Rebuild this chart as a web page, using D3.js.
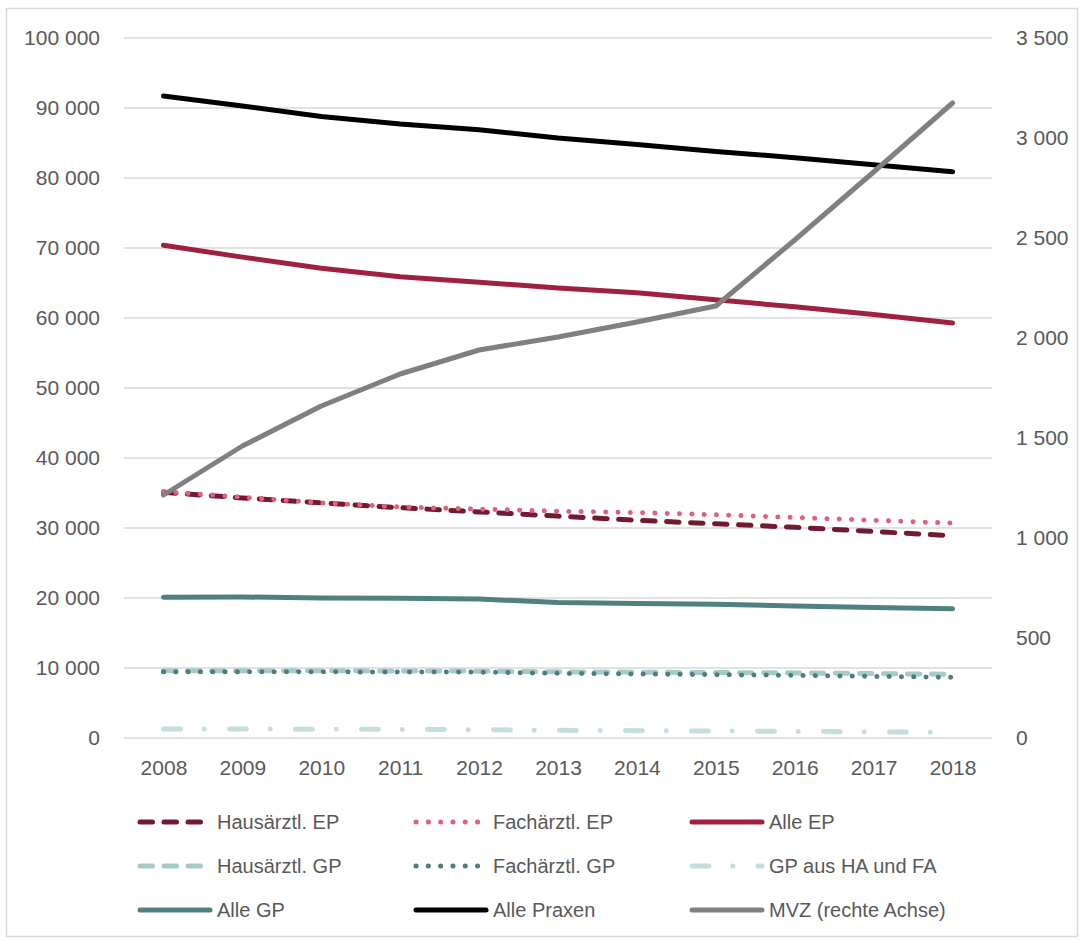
<!DOCTYPE html>
<html>
<head>
<meta charset="utf-8">
<script src="https://cdn.jsdelivr.net/npm/d3@7"></script>
<style>
  html, body { margin: 0; padding: 0; background: #fff; }
  svg { display: block; }
  text { font-family: "Liberation Sans", Arial, sans-serif; fill: #595959; }
</style>
</head>
<body>
<svg id="chart" width="1082" height="940"></svg>
<script>
// Jahre
const years = [2008, 2009, 2010, 2011, 2012, 2013, 2014, 2015, 2016, 2017, 2018];

// Anzahl Praxen (linke Achse)
const hausaerztlEP = [35100, 34300, 33600, 32900, 32300, 31700, 31100, 30600, 30100, 29500, 28900];
const fachaerztlEP = [35200, 34400, 33600, 33000, 32700, 32400, 32200, 31900, 31500, 31100, 30700];
const alleEP       = [70400, 68700, 67100, 65900, 65100, 64300, 63600, 62600, 61600, 60500, 59300];
const hausaerztlGP = [9620, 9620, 9600, 9580, 9550, 9450, 9400, 9350, 9300, 9200, 9100];
const fachaerztlGP = [9470, 9470, 9450, 9440, 9420, 9240, 9150, 9050, 8950, 8800, 8670];
const gpHaFa       = [1290, 1280, 1260, 1230, 1180, 1100, 1050, 1000, 940, 870, 810];
const alleGP       = [20100, 20150, 20000, 19950, 19850, 19350, 19200, 19100, 18850, 18650, 18450];
const allePraxen   = [91700, 90300, 88800, 87700, 86900, 85700, 84800, 83800, 82900, 81900, 80900];

// MVZ (rechte Achse)
const mvz = [1215, 1460, 1660, 1820, 1940, 2005, 2080, 2160, 2490, 2830, 3175];

// Achsenbeschriftungen
const leftTicks  = [0, 10000, 20000, 30000, 40000, 50000, 60000, 70000, 80000, 90000, 100000];
const rightTicks = [0, 500, 1000, 1500, 2000, 2500, 3000, 3500];

const series = [
  { name: "Hausärztl. EP",        values: hausaerztlEP, axis: "L", color: "#731a33", dash: "12.5 11.5" },
  { name: "Fachärztl. EP",        values: fachaerztlEP, axis: "L", color: "#e0607e", dash: "0.1 12.2" },
  { name: "Alle EP",              values: alleEP,       axis: "L", color: "#a0213f", dash: null },
  { name: "Hausärztl. GP",        values: hausaerztlGP, axis: "L", color: "#a6cacb", dash: "12.5 11.5" },
  { name: "Fachärztl. GP",        values: fachaerztlGP, axis: "L", color: "#4b7e7c", dash: "0.1 12.2" },
  { name: "GP aus HA und FA",     values: gpHaFa,       axis: "L", color: "#c5dddd", dash: "17 23.75 0.1 25.15" },
  { name: "Alle GP",              values: alleGP,       axis: "L", color: "#4f8180", dash: null },
  { name: "Alle Praxen",          values: allePraxen,   axis: "L", color: "#000000", dash: null },
  { name: "MVZ (rechte Achse)",   values: mvz,          axis: "R", color: "#808080", dash: null }
];

const svg = d3.select("#chart");
const plot = { left: 124, right: 992, top: 38, bottom: 738 };
const lineWidth = 5;

// Rahmen
svg.append("rect")
  .attr("x", 6.5).attr("y", 8.5)
  .attr("width", 1071).attr("height", 928)
  .attr("fill", "none").attr("stroke", "#d9d9d9").attr("stroke-width", 1.5);

const x = d3.scalePoint().domain(years).range([plot.left, plot.right]).padding(0.5);
const yL = d3.scaleLinear().domain([0, 100000]).range([plot.bottom, plot.top]);
const yR = d3.scaleLinear().domain([0, 3500]).range([plot.bottom, plot.top]);

const fmt = d3.formatLocale({ decimal: ",", thousands: " ", grouping: [3], currency: ["", " €"] }).format(",d");

// Gitterlinien
svg.append("g")
  .selectAll("line")
  .data(leftTicks)
  .join("line")
  .attr("x1", plot.left).attr("x2", plot.right)
  .attr("y1", d => yL(d)).attr("y2", d => yL(d))
  .attr("stroke", "#d9d9d9").attr("stroke-width", 1.5);

// Linke Achse
const axL = svg.append("g")
  .attr("transform", `translate(${plot.left},0)`)
  .call(d3.axisLeft(yL).tickValues(leftTicks).tickFormat(fmt).tickSize(0).tickPadding(24));
axL.select(".domain").remove();
axL.selectAll("text").attr("font-size", 21).attr("font-family", null).attr("fill", "#595959");

// Rechte Achse
const axR = svg.append("g")
  .attr("transform", `translate(${plot.right},0)`)
  .call(d3.axisRight(yR).tickValues(rightTicks).tickFormat(fmt).tickSize(0).tickPadding(24));
axR.select(".domain").remove();
axR.selectAll("text").attr("font-size", 21).attr("font-family", null).attr("fill", "#595959");

// X-Achse
const axX = svg.append("g")
  .attr("transform", `translate(0,${plot.bottom})`)
  .call(d3.axisBottom(x).tickSize(0).tickPadding(22));
axX.select(".domain").remove();
axX.selectAll("text").attr("font-size", 21).attr("font-family", null).attr("fill", "#595959");

// Linien
const lineGen = s => d3.line()
  .x((d, i) => x(years[i]))
  .y(d => (s.axis === "R" ? yR(d) : yL(d)));

svg.append("g")
  .selectAll("path")
  .data(series)
  .join("path")
  .attr("d", s => lineGen(s)(s.values))
  .attr("fill", "none")
  .attr("stroke", s => s.color)
  .attr("stroke-width", lineWidth)
  .attr("stroke-linecap", "round")
  .attr("stroke-linejoin", "round")
  .attr("stroke-dasharray", s => s.dash);

// Legende
const legendCols = [140, 416, 692];
const legendRows = [822, 866, 910];
const legend = svg.append("g");
series.forEach((s, i) => {
  const cx = legendCols[i % 3];
  const cy = legendRows[Math.floor(i / 3)];
  legend.append("line")
    .attr("x1", cx).attr("x2", cx + 70)
    .attr("y1", cy).attr("y2", cy)
    .attr("stroke", s.color)
    .attr("stroke-width", lineWidth)
    .attr("stroke-linecap", "round")
    .attr("stroke-dasharray", s.dash);
  legend.append("text")
    .attr("x", cx + 77)
    .attr("y", cy)
    .attr("dy", "0.35em")
    .attr("font-size", 20)
    .text(s.name);
});
</script>
</body>
</html>
